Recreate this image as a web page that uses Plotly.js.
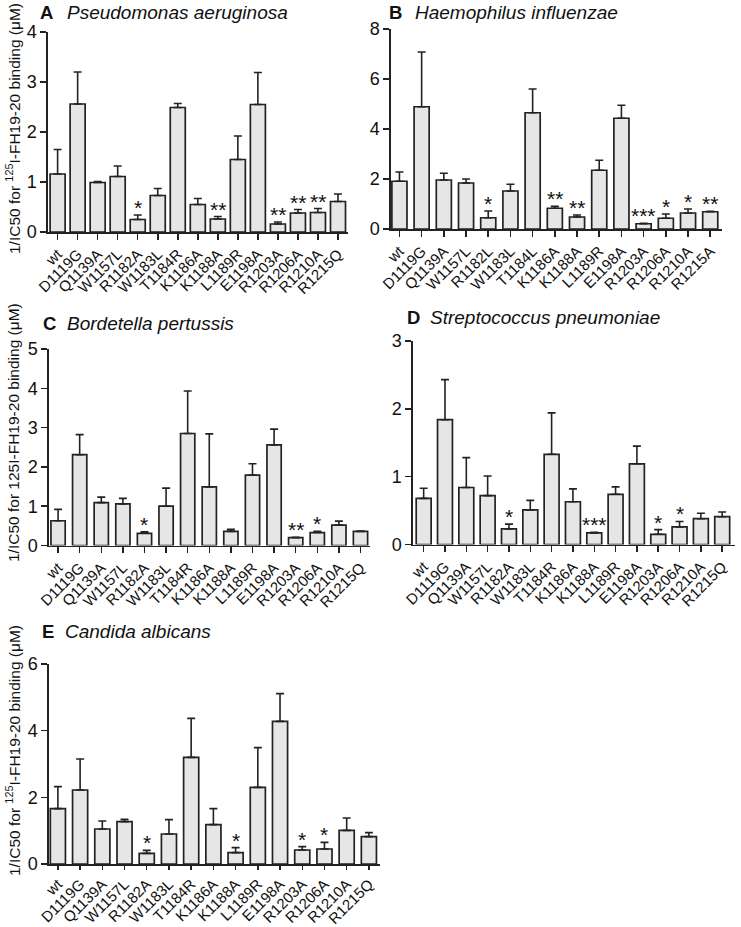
<!DOCTYPE html>
<html>
<head>
<meta charset="utf-8">
<script src="https://cdn.plot.ly/plotly-3.0.1.min.js"></script>
<style>html,body{margin:0;padding:0;background:#fff;}#chart{width:741px;height:927px;}</style>
</head>
<body>
<div id="chart"></div>
<script>
// ---- data ----
const categoriesA = ['wt','D1119G','Q1139A','W1157L','R1182A','W1183L','T1184R','K1186A','K1188A','L1189R','E1198A','R1203A','R1206A','R1210A','R1215Q'];
const categoriesB = ['wt','D1119G','Q1139A','W1157L','R1182L','W1183L','T1184L','K1186A','K1188A','L1189R','E1198A','R1203A','R1206A','R1210A','R1215A'];
const categoriesC = categoriesA.slice();
const categoriesD = categoriesA.slice();
const categoriesE = categoriesA.slice();

const valuesA = [1.16,2.56,0.99,1.11,0.25,0.73,2.49,0.55,0.26,1.45,2.55,0.16,0.38,0.39,0.61];
const errTopA = [1.65,3.20,1.01,1.32,0.34,0.87,2.57,0.67,0.31,1.92,3.19,0.20,0.45,0.47,0.76];
const starsA  = ['','','','','*','','','','**','','','**','**','**',''];

const valuesB = [1.91,4.89,1.96,1.84,0.45,1.52,4.65,0.83,0.48,2.35,4.43,0.21,0.43,0.64,0.69];
const errTopB = [2.28,7.08,2.23,2.00,0.72,1.79,5.60,0.91,0.56,2.75,4.95,0.23,0.60,0.80,0.71];
const starsB  = ['','','','','*','','','**','**','','','***','*','*','**'];

const valuesC = [0.63,2.31,1.09,1.06,0.31,1.00,2.85,1.49,0.36,1.79,2.56,0.20,0.33,0.52,0.36];
const errTopC = [0.92,2.82,1.23,1.20,0.35,1.46,3.93,2.84,0.41,2.08,2.96,0.21,0.36,0.62,0.37];
const starsC  = ['','','','','*','','','','','','','**','*','',''];

const valuesD = [0.68,1.84,0.84,0.72,0.23,0.51,1.33,0.63,0.17,0.74,1.19,0.15,0.26,0.38,0.41];
const errTopD = [0.83,2.43,1.28,1.01,0.30,0.65,1.94,0.82,0.18,0.85,1.45,0.22,0.34,0.46,0.48];
const starsD  = ['','','','','*','','','','***','','','*','*','',''];

const valuesE = [1.66,2.22,1.05,1.27,0.32,0.90,3.20,1.18,0.34,2.30,4.28,0.42,0.45,1.01,0.82];
const errTopE = [2.32,3.15,1.29,1.34,0.41,1.33,4.37,1.66,0.49,3.49,5.11,0.52,0.65,1.38,0.94];
const starsE  = ['','','','','*','','','','*','','','*','*','',''];

const panelLetters = ['A','B','C','D','E'];
const panelSpecies = ['Pseudomonas aeruginosa','Haemophilus influenzae','Bordetella pertussis','Streptococcus pneumoniae','Candida albicans'];
const yTitleSup = '1/IC50 for <sup>125</sup>I-FH19-20 binding (μM)';
const yTitlePlain = '1/IC50 for 125I-FH19-20 binding (μM)';

// ---- layout ----
const W = 741, H = 927;
const FONT = 'Arial, "Liberation Sans", sans-serif';
const px = x => x / W;
const py = y => 1 - y / H;

const panels = [
  {cats: categoriesA, vals: valuesA, err: errTopA, stars: starsA, x0: 48, x1: 348, y0: 32, y1: 232, xr: [-0.48, 14.5], yr: [0,4], dt: 1, bw: 0.75,
   title: {lx: 38, sx: 65, y: 13}, ytitle: {text: yTitleSup, x: 13, y: 129}, tl: 6},
  {cats: categoriesB, vals: valuesB, err: errTopB, stars: starsB, x0: 391, x1: 722, y0: 29, y1: 229, xr: [-0.38, 14.53], yr: [0,8], dt: 2, bw: 0.68,
   title: {lx: 387, sx: 413, y: 13}, ytitle: null, tl: 6},
  {cats: categoriesC, vals: valuesC, err: errTopC, stars: starsC, x0: 49, x1: 370, y0: 349, y1: 545.5, xr: [-0.42, 14.44], yr: [0,5], dt: 1, bw: 0.66,
   title: {lx: 41, sx: 65, y: 323}, ytitle: {text: yTitlePlain, x: 13, y: 433}, tl: 6},
  {cats: categoriesD, vals: valuesD, err: errTopD, stars: starsD, x0: 413, x1: 735, y0: 341, y1: 544.5, xr: [-0.5, 14.6], yr: [0,3], dt: 1, bw: 0.7,
   title: {lx: 405, sx: 428, y: 318}, ytitle: null, tl: 6},
  {cats: categoriesE, vals: valuesE, err: errTopE, stars: starsE, x0: 49, x1: 380, y0: 664, y1: 864, xr: [-0.4, 14.5], yr: [0,6], dt: 2, bw: 0.68,
   title: {lx: 40, sx: 63, y: 631}, ytitle: {text: yTitleSup, x: 13, y: 751}, tl: 4}
];

const data = [];
const layout = {
  width: W, height: H,
  margin: {l: 0, r: 0, t: 0, b: 0},
  paper_bgcolor: '#ffffff', plot_bgcolor: 'rgba(0,0,0,0)',
  showlegend: false,
  font: {family: FONT, color: '#111', size: 15},
  annotations: [],
  bargap: 0
};

panels.forEach((p, i) => {
  const n = i + 1;
  const xa = n === 1 ? 'x' : 'x' + n;
  const ya = n === 1 ? 'y' : 'y' + n;
  data.push({
    type: 'bar', x: p.cats, y: p.vals, xaxis: xa, yaxis: ya, width: p.bw,
    marker: {color: '#e6e6e6', line: {color: '#222', width: 1.7}},
    error_y: {type: 'data', symmetric: false, array: p.err.map((e, k) => e - p.vals[k]), arrayminus: p.vals.map(() => 0),
              color: '#222', thickness: 1.6, width: 4},
    hoverinfo: 'skip'
  });
  layout['xaxis' + (n === 1 ? '' : n)] = {
    domain: [px(p.x0), px(p.x1)], anchor: ya, range: p.xr, type: 'category',
    showline: true, linecolor: '#222', linewidth: 1.6,
    ticks: 'outside', ticklen: p.tl, tickwidth: 1.5, tickcolor: '#222',
    tickangle: -45, tickfont: {family: FONT, size: 15, color: '#111'},
    showgrid: false, zeroline: false, fixedrange: true
  };
  layout['yaxis' + (n === 1 ? '' : n)] = {
    domain: [py(p.y1), py(p.y0)], anchor: xa, range: p.yr, dtick: p.dt, tick0: 0,
    showline: true, linecolor: '#222', linewidth: 1.6,
    ticks: 'outside', ticklen: 6, tickwidth: 1.5, tickcolor: '#222',
    tickfont: {family: FONT, size: 18, color: '#111'},
    showgrid: false, zeroline: false, fixedrange: true
  };
  // panel titles
  layout.annotations.push({xref: 'paper', yref: 'paper', x: px(p.title.lx), y: py(p.title.y), xanchor: 'left', yanchor: 'middle',
    text: '<b>' + panelLetters[i] + '</b>', showarrow: false, font: {family: FONT, size: 18.5, color: '#111'}});
  layout.annotations.push({xref: 'paper', yref: 'paper', x: px(p.title.sx), y: py(p.title.y), xanchor: 'left', yanchor: 'middle',
    text: '<i>' + panelSpecies[i] + '</i>', showarrow: false, font: {family: FONT, size: 19, color: '#111'}});
  if (p.ytitle) {
    layout.annotations.push({xref: 'paper', yref: 'paper', x: px(p.ytitle.x), y: py(p.ytitle.y), xanchor: 'center', yanchor: 'middle',
      text: p.ytitle.text, textangle: -90, showarrow: false, font: {family: FONT, size: 15.5, color: '#111'}});
  }
  // significance stars
  p.stars.forEach((s, k) => {
    if (!s) return;
    layout.annotations.push({xref: xa, yref: ya, x: p.cats[k], y: p.err[k], xanchor: 'center', yanchor: 'bottom', yshift: -6,
      text: s, showarrow: false, font: {family: FONT, size: 21, color: '#111'}});
  });
});

Plotly.newPlot('chart', data, layout, {staticPlot: true, displayModeBar: false});
</script>
</body>
</html>
